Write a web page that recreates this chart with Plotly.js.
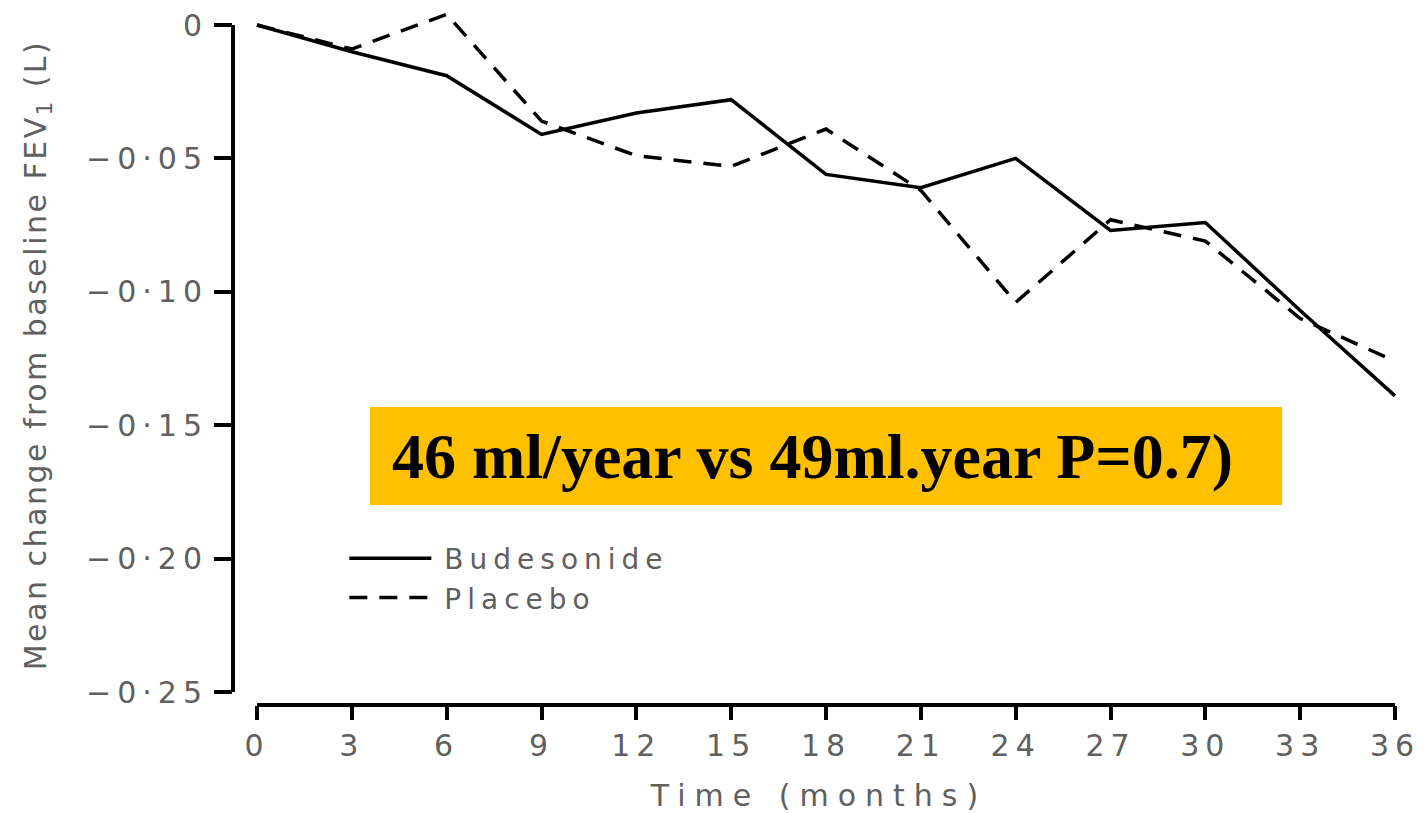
<!DOCTYPE html>
<html>
<head>
<meta charset="utf-8">
<script src="https://cdn.plot.ly/plotly-3.0.1.min.js"></script>
<style>
  html, body { margin: 0; padding: 0; background: #fff; }
  #chart { width: 1425px; height: 814px; }
  /* wide, spaced-out lettering of the axis text */
  .xtick text { letter-spacing: 6px; }
  .ytick text { letter-spacing: 6px; }
  .g-xtitle text { letter-spacing: 9px; }
  .g-ytitle text { letter-spacing: 2.5px; }
  .legendtext { letter-spacing: 6px; }
</style>
</head>
<body>
<div id="chart"></div>
<script>
// Mean change from baseline FEV1 (L) over 36 months of follow-up
const months = [0, 3, 6, 9, 12, 15, 18, 21, 24, 27, 30, 33, 36];
const budesonide = [0, -0.010, -0.019, -0.041, -0.033, -0.028, -0.056, -0.061, -0.050, -0.077, -0.074, -0.107, -0.139];
const placebo    = [0, -0.009,  0.004, -0.036, -0.049, -0.053, -0.039, -0.062, -0.104, -0.073, -0.081, -0.110, -0.126];

const seriesNames = ['Budesonide', 'Placebo'];
const xTickVals = [0, 3, 6, 9, 12, 15, 18, 21, 24, 27, 30, 33, 36];
const yTickVals = [0, -0.05, -0.10, -0.15, -0.20, -0.25];
const yTickText = ['0', '−0·05', '−0·10', '−0·15', '−0·20', '−0·25'];
const xTitle = 'Time (months)';
const yTitle = 'Mean change from baseline FEV<sub>1</sub> (L)';
const noteText = '46 ml/year vs 49ml.year P=0.7)';

const textGrey = '#606060';
const axisFont = { family: 'DejaVu Sans, sans-serif', size: 30, color: textGrey };

const traces = [
  {
    x: months, y: budesonide, name: seriesNames[0],
    type: 'scatter', mode: 'lines',
    line: { color: '#000', width: 3.5 }
  },
  {
    x: months, y: placebo, name: seriesNames[1],
    type: 'scatter', mode: 'lines',
    line: { color: '#000', width: 3.5, dash: '18px,12px' }
  }
];

const layout = {
  width: 1425, height: 814,
  margin: { l: 233, r: 20, t: 5, b: 109 },
  paper_bgcolor: '#fff', plot_bgcolor: '#fff',
  showlegend: true,
  legend: {
    x: 0.095, y: 0.245, xanchor: 'left', yanchor: 'top',
    font: { family: 'DejaVu Sans, sans-serif', size: 28, color: textGrey },
    itemwidth: 90,
    bgcolor: 'rgba(0,0,0,0)', borderwidth: 0, tracegroupgap: 0
  },
  xaxis: {
    range: [-0.759, 36.316],
    tickmode: 'array', tickvals: xTickVals,
    ticks: 'outside', ticklen: 14, tickwidth: 4, tickcolor: '#000',
    showline: false, showgrid: false, zeroline: false,
    tickfont: axisFont,
    title: { text: xTitle, font: axisFont, standoff: 22 },
    automargin: false
  },
  yaxis: {
    range: [-0.25487, 0.0075],
    tickmode: 'array', tickvals: yTickVals, ticktext: yTickText,
    ticks: 'outside', ticklen: 18, tickwidth: 4, tickcolor: '#000',
    showline: false, showgrid: false, zeroline: false,
    tickfont: axisFont,
    title: { text: yTitle, font: axisFont, standoff: 30 },
    automargin: false
  },
  shapes: [
    // detached y axis line, spanning 0 to -0.25
    { type: 'line', xref: 'paper', yref: 'y', x0: 0, x1: 0, y0: yTickVals[yTickVals.length - 1], y1: yTickVals[0],
      line: { color: '#000', width: 4 } },
    // detached x axis line, spanning 0 to 36 months
    { type: 'line', xref: 'x', yref: 'paper', x0: xTickVals[0], x1: xTickVals[xTickVals.length - 1], y0: 0, y1: 0,
      line: { color: '#000', width: 4 } },
    // orange panel behind the slope comparison note
    { type: 'rect', xref: 'paper', yref: 'paper', x0: 0.1169, x1: 0.8951, y0: 0.2857, y1: 0.4257,
      fillcolor: '#FFC000', line: { width: 0 } }
  ],
  annotations: [
    {
      xref: 'paper', yref: 'paper', x: 0.134, y: 0.3557,
      xanchor: 'left', yanchor: 'middle',
      text: noteText, showarrow: false,
      font: { family: 'Liberation Serif, Times New Roman, serif', size: 64, color: '#000', weight: 'bold' }
    }
  ]
};

Plotly.newPlot('chart', traces, layout, { displayModeBar: false, staticPlot: true }).then(function (gd) {
  // longer line keys in the legend
  gd.querySelectorAll('.legendlines path').forEach(function (p) {
    p.setAttribute('d', 'M5,0h82');
  });
});
</script>
</body>
</html>
